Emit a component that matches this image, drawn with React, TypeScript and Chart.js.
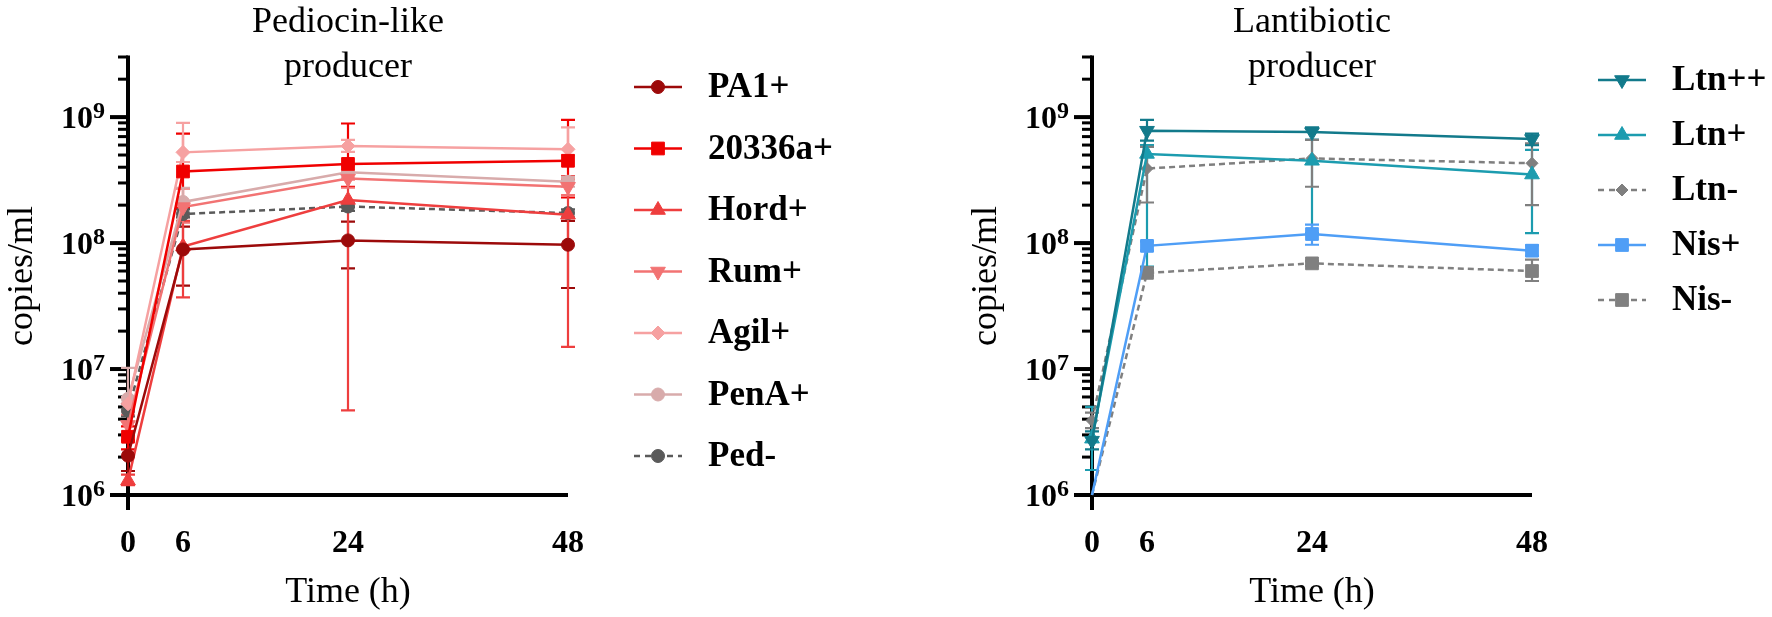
import React, { useEffect, useRef } from "react";
import { Chart, registerables } from "chart.js";
import { drawPoint } from "chart.js/helpers";

Chart.register(...registerables);

// ---------- shared axis data ----------
const timePoints = [0, 6, 24, 48];
const xTickLabels = ["0", "6", "24", "48"];
const yMajorTicks = [1e6, 1e7, 1e8, 1e9];
const yMajorExponents = ["6", "7", "8", "9"];
const yMinorMultipliers = [2, 3, 4, 5, 6, 7, 8, 9];
const yMin = 1e6;
const yMax = 3e9;
const xMin = 0;
const xMax = 48;

// ---------- Pediocin-like producer ----------
const pedTitle = ["Pediocin-like", "producer"];
const pa1Mean = [2.05e6, 8.9e7, 1.05e8, 9.7e7];
const pa1Low = [1.55e6, 4.6e7, 6.3e7, 4.4e7];
const pa1High = [2.7e6, 1.35e8, 1.48e8, 1.5e8];

const s20336Mean = [2.9e6, 3.7e8, 4.25e8, 4.5e8];
const s20336Low = [2.3e6, 1.9e8, 2.8e8, 2.3e8];
const s20336High = [3.5e6, 7.4e8, 8.9e8, 9.5e8];

const hordMean = [1.3e6, 9.4e7, 2.2e8, 1.68e8];
const hordLow = [1.2e6, 3.7e7, 4.7e6, 1.5e7];
const hordHigh = [1.45e6, 1.5e8, 3.2e8, 3.4e8];

const rumMean = [3.6e6, 1.93e8, 3.25e8, 2.8e8];
const rumLow = [3.0e6, 1.45e8, 2.75e8, 2.4e8];
const rumHigh = [4.3e6, 2.7e8, 3.75e8, 3.2e8];

const agilMean = [5.3e6, 5.25e8, 5.9e8, 5.55e8];
const agilLow = [4.6e6, 4.4e8, 5.3e8, 5.0e8];
const agilHigh = [6.0e6, 9.0e8, 6.6e8, 8.3e8];

const penaMean = [5.8e6, 2.12e8, 3.65e8, 3.07e8];
const penaLow = [4.5e6, 1.6e8, 3.3e8, 2.8e8];
const penaHigh = [1.02e7, 2.75e8, 4.1e8, 3.35e8];

const pedNegMean = [4.7e6, 1.7e8, 1.95e8, 1.73e8];
const pedNegLow = [4.2e6, 1.6e8, 1.8e8, 1.6e8];
const pedNegHigh = [5.3e6, 1.85e8, 2.1e8, 1.85e8];

// ---------- Lantibiotic producer ----------
const lanTitle = ["Lantibiotic", "producer"];
const ltnPPMean = [2.7e6, 7.8e8, 7.6e8, 6.7e8];
const ltnPPLow = [2.3e6, 6.5e8, 6.6e8, 6.0e8];
const ltnPPHigh = [3.2e6, 9.5e8, 8.3e8, 7.4e8];

const ltnPMean = [2.8e6, 5.1e8, 4.5e8, 3.5e8];
const ltnPLow = [1.58e6, 6.5e7, 1.2e8, 1.2e8];
const ltnPHigh = [5.0e6, 6.0e8, 6.6e8, 5.5e8];

const ltnNMean = [3.9e6, 3.9e8, 4.7e8, 4.3e8];
const ltnNLow = [3.4e6, 2.1e8, 2.8e8, 2.0e8];
const ltnNHigh = [4.5e6, 5.8e8, 6.6e8, 6.2e8];

const nisPMean = [1e6, 9.5e7, 1.18e8, 8.7e7];
const nisPLow = [1e6, 8.7e7, 9.7e7, 7.9e7];
const nisPHigh = [1e6, 1.03e8, 1.4e8, 9.6e7];

const nisNMean = [1e6, 5.8e7, 6.9e7, 6.0e7];
const nisNLow = [1e6, 5.5e7, 6.6e7, 5.0e7];
const nisNHigh = [1e6, 6.1e7, 7.2e7, 7.4e7];

// ---------- styling ----------
const FONT = '"Liberation Serif"';

type Series = {
  label: string;
  mean: number[];
  low: number[];
  high: number[];
  color: string;
  pointStyle: string;
  radius: number;
  rotation: number;
  dashed: boolean;
};

type Panel = {
  title: string[];
  series: Series[];
  yAxisWidth: number;
  padRight: number;
  legendStartY: number;
  legendStep: number;
};

const pedPanel: Panel = {
  title: pedTitle,
  yAxisWidth: 128,
  padRight: 318,
  legendStartY: 87,
  legendStep: 61.5,
  series: [
    { label: "PA1+", mean: pa1Mean, low: pa1Low, high: pa1High, color: "#9C0A0A", pointStyle: "circle", radius: 6.5, rotation: 0, dashed: false },
    { label: "20336a+", mean: s20336Mean, low: s20336Low, high: s20336High, color: "#F00000", pointStyle: "rect", radius: 9, rotation: 0, dashed: false },
    { label: "Hord+", mean: hordMean, low: hordLow, high: hordHigh, color: "#EE3E3E", pointStyle: "triangle", radius: 8.5, rotation: 0, dashed: false },
    { label: "Rum+", mean: rumMean, low: rumLow, high: rumHigh, color: "#F27373", pointStyle: "triangle", radius: 8.5, rotation: 180, dashed: false },
    { label: "Agil+", mean: agilMean, low: agilLow, high: agilHigh, color: "#F6A1A1", pointStyle: "rectRot", radius: 7, rotation: 0, dashed: false },
    { label: "PenA+", mean: penaMean, low: penaLow, high: penaHigh, color: "#D8ABAB", pointStyle: "circle", radius: 6.5, rotation: 0, dashed: false },
    { label: "Ped-", mean: pedNegMean, low: pedNegLow, high: pedNegHigh, color: "#5A5A5A", pointStyle: "circle", radius: 6.5, rotation: 0, dashed: true },
  ],
};

const lanPanel: Panel = {
  title: lanTitle,
  yAxisWidth: 206,
  padRight: 240,
  legendStartY: 80,
  legendStep: 55,
  series: [
    { label: "Ltn++", mean: ltnPPMean, low: ltnPPLow, high: ltnPPHigh, color: "#127A8B", pointStyle: "triangle", radius: 8.5, rotation: 180, dashed: false },
    { label: "Ltn+", mean: ltnPMean, low: ltnPLow, high: ltnPHigh, color: "#1C9CAF", pointStyle: "triangle", radius: 8.5, rotation: 0, dashed: false },
    { label: "Ltn-", mean: ltnNMean, low: ltnNLow, high: ltnNHigh, color: "#7F7F7F", pointStyle: "rectRot", radius: 6, rotation: 0, dashed: true },
    { label: "Nis+", mean: nisPMean, low: nisPLow, high: nisPHigh, color: "#4F9EF6", pointStyle: "rect", radius: 9, rotation: 0, dashed: false },
    { label: "Nis-", mean: nisNMean, low: nisNLow, high: nisNHigh, color: "#808080", pointStyle: "rect", radius: 9, rotation: 0, dashed: true },
  ],
};

function setFont(ctx: CanvasRenderingContext2D, weight: string, size: number) {
  ctx.font = `${weight} ${size}px ${FONT}`;
}

function makeDecor(panel: Panel) {
  return {
    id: "panelDecor",
    beforeDatasetsDraw(chart: any) {
      const { ctx, chartArea: a, scales } = chart;
      const xs = scales.x;
      const ys = scales.y;
      const x0 = xs.getPixelForValue(xMin);
      const yBottom = ys.getPixelForValue(yMin);
      const yTop = ys.getPixelForValue(yMax);
      ctx.save();
      ctx.strokeStyle = "#000";
      ctx.lineCap = "butt";
      ctx.lineWidth = 4;
      ctx.beginPath();
      ctx.moveTo(x0, yTop - 1.5);
      ctx.lineTo(x0, a.bottom + 15);
      ctx.stroke();
      ctx.beginPath();
      ctx.moveTo(x0 - 18, yBottom);
      ctx.lineTo(xs.getPixelForValue(xMax), yBottom);
      ctx.stroke();
      yMajorTicks.forEach((v) => {
        const py = ys.getPixelForValue(v);
        ctx.lineWidth = 4;
        ctx.beginPath();
        ctx.moveTo(x0 - 18, py);
        ctx.lineTo(x0, py);
        ctx.stroke();
        yMinorMultipliers.forEach((m) => {
          const mv = v * m;
          if (mv > yMax * 1.0001) return;
          const my = ys.getPixelForValue(mv);
          ctx.lineWidth = 3;
          ctx.beginPath();
          ctx.moveTo(x0 - 10, my);
          ctx.lineTo(x0, my);
          ctx.stroke();
        });
      });
      panel.series.forEach((s) => {
        ctx.strokeStyle = s.color;
        ctx.lineWidth = 2.2;
        ctx.setLineDash([]);
        s.mean.forEach((_, i) => {
          if (s.high[i] <= yMin && s.low[i] <= yMin) return;
          const px = xs.getPixelForValue(timePoints[i]);
          const pl = ys.getPixelForValue(s.low[i]);
          const ph = ys.getPixelForValue(s.high[i]);
          ctx.beginPath();
          ctx.moveTo(px, pl);
          ctx.lineTo(px, ph);
          ctx.moveTo(px - 7, pl);
          ctx.lineTo(px + 7, pl);
          ctx.moveTo(px - 7, ph);
          ctx.lineTo(px + 7, ph);
          ctx.stroke();
        });
      });
      ctx.restore();
    },
    afterDraw(chart: any) {
      const { ctx, chartArea: a, scales } = chart;
      const xs = scales.x;
      const ys = scales.y;
      const x0 = xs.getPixelForValue(xMin);
      const cx = (a.left + a.right) / 2;
      ctx.save();
      ctx.fillStyle = "#000";
      setFont(ctx, "normal", 36);
      ctx.textAlign = "center";
      ctx.textBaseline = "alphabetic";
      panel.title.forEach((line, i) => {
        ctx.fillText(line, cx, 32 + i * 45);
      });
      ctx.fillText("Time (h)", cx, 602);
      ctx.save();
      ctx.translate(a.left - 105, (a.top + a.bottom) / 2);
      ctx.rotate(-Math.PI / 2);
      ctx.textBaseline = "middle";
      ctx.fillText("copies/ml", 0, 0);
      ctx.restore();
      setFont(ctx, "bold", 32);
      ctx.textAlign = "center";
      ctx.textBaseline = "alphabetic";
      timePoints.forEach((t, i) => {
        ctx.fillText(xTickLabels[i], xs.getPixelForValue(t), 552);
      });
      yMajorTicks.forEach((v, i) => {
        const py = ys.getPixelForValue(v);
        const right = x0 - 23;
        setFont(ctx, "bold", 24);
        ctx.textAlign = "right";
        ctx.fillText(yMajorExponents[i], right, py + 1);
        const ew = ctx.measureText(yMajorExponents[i]).width;
        setFont(ctx, "bold", 32);
        ctx.fillText("10", right - ew, py + 11);
      });
      const lx = a.right + 90;
      const tx = a.right + 140;
      panel.series.forEach((s, i) => {
        const ly = panel.legendStartY + i * panel.legendStep;
        ctx.strokeStyle = s.color;
        ctx.lineWidth = 2.5;
        ctx.setLineDash(s.dashed ? [6, 5] : []);
        ctx.beginPath();
        ctx.moveTo(lx - 24, ly);
        ctx.lineTo(lx + 24, ly);
        ctx.stroke();
        ctx.setLineDash([]);
        ctx.fillStyle = s.color;
        ctx.strokeStyle = s.color;
        ctx.lineWidth = 1;
        drawPoint(ctx, { pointStyle: s.pointStyle, rotation: s.rotation, radius: s.radius, borderWidth: 1 } as any, lx, ly);
        ctx.fillStyle = "#000";
        setFont(ctx, "bold", 35);
        ctx.textAlign = "left";
        ctx.textBaseline = "middle";
        ctx.fillText(s.label, tx, ly + 1);
      });
      ctx.restore();
    },
  };
}

function buildChart(canvas: HTMLCanvasElement, panel: Panel) {
  const datasets = panel.series.map((s) => ({
    label: s.label,
    data: s.mean.map((v, i) => ({ x: timePoints[i], y: v })),
    borderColor: s.color,
    backgroundColor: s.color,
    pointBackgroundColor: s.color,
    pointBorderColor: s.color,
    pointBorderWidth: 1,
    pointStyle: s.pointStyle,
    pointRotation: s.rotation,
    pointRadius: (c: any) => (c.raw && c.raw.y <= yMin ? 0 : s.radius),
    borderWidth: 2.5,
    borderDash: s.dashed ? [6, 4] : [],
    tension: 0,
    clip: false as any,
    fill: false,
  }));
  return new Chart(canvas, {
    type: "line",
    data: { datasets },
    options: {
      animation: false,
      responsive: false,
      maintainAspectRatio: false,
      events: [],
      layout: { padding: { left: 0, right: panel.padRight, top: 57, bottom: 0 } },
      plugins: { legend: { display: false }, title: { display: false }, tooltip: { enabled: false } },
      scales: {
        x: {
          type: "linear",
          min: xMin,
          max: xMax,
          ticks: { display: false },
          grid: { display: false },
          border: { display: false },
          afterFit: (sc: any) => {
            sc.height = 122;
          },
        },
        y: {
          type: "logarithmic",
          min: yMin,
          max: yMax,
          ticks: { display: false },
          grid: { display: false },
          border: { display: false },
          afterFit: (sc: any) => {
            sc.width = panel.yAxisWidth;
          },
        },
      },
    } as any,
    plugins: [makeDecor(panel) as any],
  });
}

export default function App() {
  const leftRef = useRef<HTMLCanvasElement>(null);
  const rightRef = useRef<HTMLCanvasElement>(null);
  useEffect(() => {
    const c1 = buildChart(leftRef.current!, pedPanel);
    const c2 = buildChart(rightRef.current!, lanPanel);
    return () => {
      c1.destroy();
      c2.destroy();
    };
  }, []);
  return (
    <div style={{ position: "fixed", left: 0, top: 0, width: 1772, height: 617, background: "#fff", overflow: "hidden" }}>
      <canvas ref={leftRef} width={886} height={617} style={{ position: "absolute", left: 0, top: 0, width: 886, height: 617 }} />
      <canvas ref={rightRef} width={886} height={617} style={{ position: "absolute", left: 886, top: 0, width: 886, height: 617 }} />
    </div>
  );
}
